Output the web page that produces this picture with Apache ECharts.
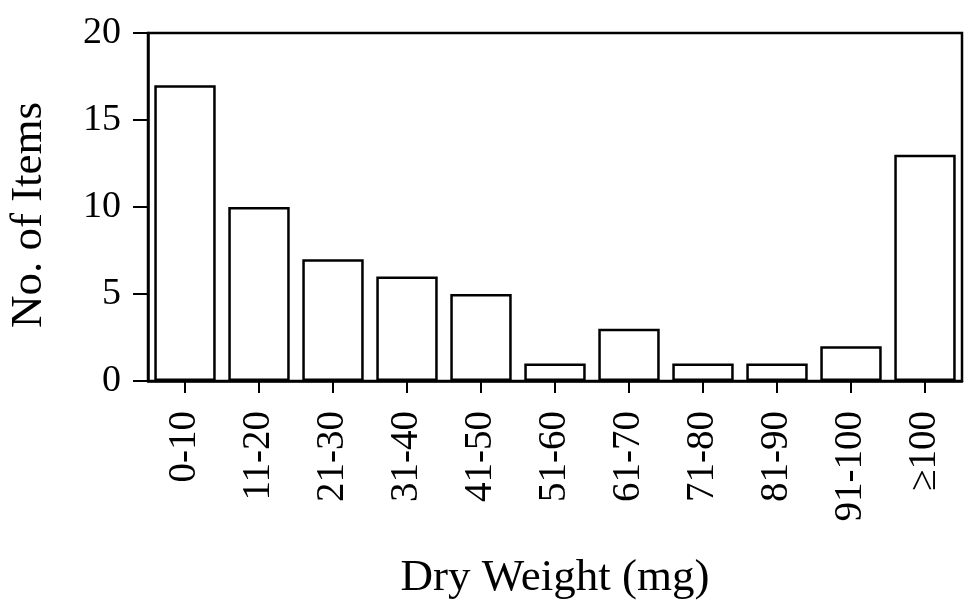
<!DOCTYPE html>
<html><head><meta charset="utf-8">
<script src="https://cdn.jsdelivr.net/npm/echarts@6/dist/echarts.min.js"></script>
<style>html,body{margin:0;padding:0;background:#fff}#c{width:968px;height:612px}</style>
</head><body><div id="c"></div>
<script>
const categories = ['0-10','11-20','21-30','31-40','41-50','51-60','61-70','71-80','81-90','91-100','≥100'];
const counts = [17, 10, 7, 6, 5, 1, 3, 1, 1, 2, 13];
const yTicks = [0, 5, 10, 15, 20];

const font = 'Liberation Serif';
const chart = echarts.init(document.getElementById('c'), null, {renderer: 'canvas'});
chart.setOption({
  animation: false,
  backgroundColor: '#fff',
  grid: {left: 148, right: 6, top: 33, bottom: 231, outerBoundsMode: 'none', containLabel: false,
         show: true, borderColor: '#000', borderWidth: 2.5, backgroundColor: 'transparent'},
  xAxis: {
    type: 'category',
    data: categories,
    name: 'Dry Weight (mg)',
    nameLocation: 'middle',
    nameGap: 175,
    nameTextStyle: {fontFamily: font, fontSize: 45, color: '#000'},
    axisLine: {show: true, lineStyle: {color: '#000', width: 2.5}},
    axisTick: {show: true, alignWithLabel: true, length: 12, lineStyle: {color: '#000', width: 2}},
    axisLabel: {rotate: 90, margin: 30, fontFamily: font, fontSize: 39, color: '#000'}
  },
  yAxis: {
    type: 'value',
    min: yTicks[0], max: yTicks[yTicks.length - 1], interval: 5,
    name: 'No. of Items',
    nameLocation: 'middle',
    nameGap: 96,
    nameTextStyle: {fontFamily: font, fontSize: 45, color: '#000', padding: [0, 16, 0, 0]},
    axisLine: {show: true, lineStyle: {color: '#000', width: 2.5}},
    axisTick: {show: true, length: 15, lineStyle: {color: '#000', width: 2}},
    axisLabel: {margin: 27, fontFamily: font, fontSize: 38, color: '#000'},
    splitLine: {show: false}
  },
  series: [{
    type: 'bar',
    data: counts,
    barCategoryGap: '17%',
    itemStyle: {color: '#fff', borderColor: '#000', borderWidth: 2.5}
  }]
});
</script></body></html>
